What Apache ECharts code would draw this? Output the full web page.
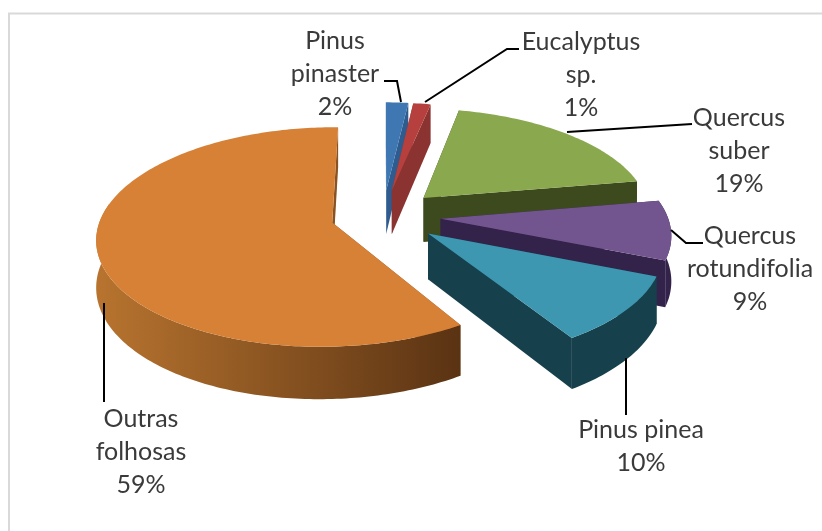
<!DOCTYPE html>
<html>
<head>
<meta charset="utf-8">
<script src="https://cdn.jsdelivr.net/npm/echarts@6/dist/echarts.min.js"></script>
<style>
  html, body { margin: 0; padding: 0; background: #fff; }
  #main { width: 822px; height: 531px; }
</style>
</head>
<body>
<div id="main"></div>
<script>
// data, clockwise from 12 o'clock (labels show them rounded)
var names = ['Pinus pinaster', 'Eucalyptus sp.', 'Quercus suber', 'Quercus rotundifolia', 'Pinus pinea', 'Outras folhosas'];
var values = [1.8, 1.4, 19, 9, 10, 58.8];
var topColors = ['#3f77b3', '#b5403d', '#8aa84e', '#72558f', '#3e97b0', '#d78137'];
var wallColors = ['#2f5c8f', '#8a3331', '#3c4a1e', '#33224a', '#17404d', '#8a5220'];

// fake 3D: disc radius, tilt, perspective, depth, explode
var cx = 383, cy = 216, rx = 232, ry = 105.8, perspV = 0.13, perspU = 0.015, depth = 45;
var explode = 0.25, explodeLast = 0.225, widthLast = 0.975;
var total = values.reduce(function (a, b) { return a + b; }, 0);

function project(u, v, z) {
  var s = 1 / (1 - perspV * v + perspU * u);
  return [cx + rx * u * s, cy + ry * v * s + depth * z * s];
}

function renderSlice(params, api) {
  var i = params.dataIndex;
  var last = i === values.length - 1;
  var before = 0;
  for (var k = 0; k < i; k++) before += values[k];
  var a0 = before / total * 360;
  var a1 = (before + api.value(1)) / total * 360;
  var mid = (a0 + a1) / 2 * Math.PI / 180;
  var ex = last ? explodeLast : explode;
  var w = last ? widthLast : 1;
  var ou = ex * Math.sin(mid), ov = -ex * Math.cos(mid);

  var rim = function (deg) {
    var r = deg * Math.PI / 180;
    return [ou + w * Math.sin(r), ov - Math.cos(r)];
  };
  var arcPts = function (from, to, z) {
    var pts = [];
    for (var d = from; d < to; d += 1) pts.push(project(rim(d)[0], rim(d)[1], z));
    pts.push(project(rim(to)[0], rim(to)[1], z));
    return pts;
  };
  var radial = function (deg) {
    var e = rim(deg);
    return [project(ou, ov, 0), project(e[0], e[1], 0), project(e[0], e[1], 1), project(ou, ov, 1)];
  };

  var children = [];
  children.push({ type: 'polygon', shape: { points: radial(a0) }, style: { fill: wallColors[i] } });
  children.push({ type: 'polygon', shape: { points: radial(a1) }, style: { fill: wallColors[i] } });

  // outer wall, only the part that faces the viewer
  var f0 = Math.max(a0, 80), f1 = Math.min(a1, 280);
  if (f1 > f0) {
    var wall = arcPts(f0, f1, 0).concat(arcPts(f0, f1, 1).reverse());
    var fill = wallColors[i];
    if (last) {
      fill = new echarts.graphic.LinearGradient(0, 0, 1, 0, [
        { offset: 0, color: '#b8742f' }, { offset: 1, color: '#5a3313' }
      ]);
    }
    children.push({ type: 'polygon', shape: { points: wall }, style: { fill: fill } });
  }

  var top = [project(ou, ov, 0)].concat(arcPts(a0, a1, 0));
  children.push({ type: 'polygon', shape: { points: top }, style: { fill: topColors[i] } });
  return { type: 'group', children: children };
}

// label lines and text
var labelLines = [
  ['Pinus', 'pinaster'],
  ['Eucalyptus', 'sp.'],
  ['Quercus', 'suber'],
  ['Quercus', 'rotundifolia'],
  ['Pinus pinea'],
  ['Outras', 'folhosas']
];
var labelPos = [[335, 41], [581, 42], [739, 118], [750, 236], [641, 430], [141, 419]];
var leaders = [
  [[384, 81], [397, 81], [401, 102]],
  [[425, 102], [507, 49], [519, 49]],
  [[567, 132], [692, 124]],
  [[671, 230], [686, 243], [703, 243]],
  [[626, 358], [626, 415]],
  [[104, 303], [104, 402]]
];

var graphics = [
  { type: 'line', z: 0, silent: true, shape: { x1: 8, y1: 13.5, x2: 822, y2: 13.5 }, style: { stroke: '#d9d9d9', lineWidth: 2 } },
  { type: 'line', z: 0, silent: true, shape: { x1: 9, y1: 13, x2: 9, y2: 531 }, style: { stroke: '#d9d9d9', lineWidth: 2 } }
];
leaders.forEach(function (pts) {
  graphics.push({ type: 'polyline', z: 10, shape: { points: pts }, style: { stroke: '#000', lineWidth: 2, fill: null } });
});
labelLines.forEach(function (lines, i) {
  var txt = lines.concat([Math.round(values[i]) + '%']);
  txt.forEach(function (t, n) {
    graphics.push({
      type: 'text', z: 10,
      x: labelPos[i][0], y: labelPos[i][1] + n * 33,
      style: { text: t, fill: '#3a3a3a', font: '25px Lato', align: 'center', verticalAlign: 'middle' }
    });
  });
});

var myChart = echarts.init(document.getElementById('main'), null, { renderer: 'canvas' });
var option = {
  animation: false,
  backgroundColor: '#fff',
  graphic: { elements: graphics },
  series: [{
    type: 'custom',
    coordinateSystem: 'none',
    renderItem: renderSlice,
    data: values.map(function (v, i) { return { name: names[i], value: [i, v] }; })
  }]
};
myChart.setOption(option);
</script>
</body>
</html>
